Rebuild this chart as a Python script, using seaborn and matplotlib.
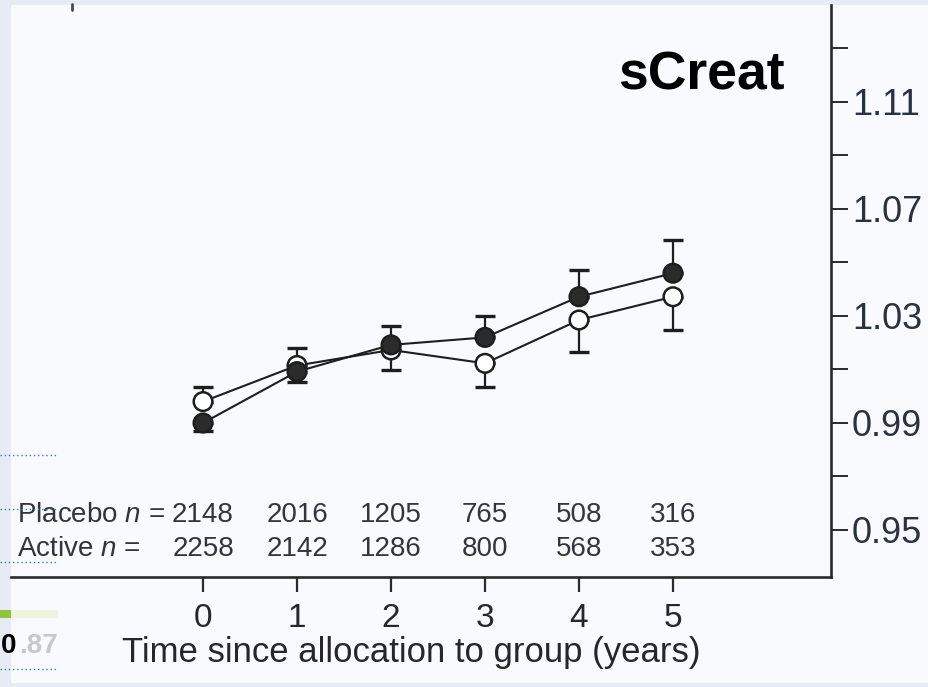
import matplotlib
matplotlib.use("Agg")
import matplotlib.pyplot as plt
from matplotlib import transforms
from matplotlib.patches import Rectangle
from matplotlib.lines import Line2D
import pandas as pd
import seaborn as sns

# Serum creatinine (mg/dL) by year since randomisation
years = [0, 1, 2, 3, 4, 5]
active_mean = [0.9900, 1.0092, 1.0192, 1.0220, 1.0372, 1.0460]
placebo_mean = [0.9980, 1.0115, 1.0173, 1.0123, 1.0285, 1.0372]
active_err_up = [0.0, 0.0, 0.0071, 0.0080, 0.0100, 0.0125]
active_err_down = [0.0030, 0.0037, 0.0, 0.0, 0.0, 0.0]
placebo_err_up = [0.0055, 0.0064, 0.0, 0.0, 0.0, 0.0]
placebo_err_down = [0.0, 0.0, 0.0075, 0.0090, 0.0118, 0.0125]

# Numbers at risk
placebo_n = [2148, 2016, 1205, 765, 508, 316]
active_n = [2258, 2142, 1286, 800, 568, 353]

y_major = [0.95, 0.99, 1.03, 1.07, 1.11]
y_minor = [0.97, 1.01, 1.05, 1.09, 1.13]
x_tick_labels = ["0", "1", "2", "3", "4", "5"]

sns.set_theme(style="white")
plt.rcParams["font.family"] = ["Liberation Sans", "DejaVu Sans"]
plt.rcParams["mathtext.fontset"] = "custom"
plt.rcParams["mathtext.rm"] = "Liberation Sans"
plt.rcParams["mathtext.it"] = "Liberation Sans:italic"

W, H = 929, 687
fig = plt.figure(figsize=(W / 100, H / 100), dpi=100)
fig.patch.set_facecolor("#e7ebf3")
fig.add_artist(Rectangle((11 / W, 4 / H), 918 / W, 678 / H,
                         transform=fig.transFigure, facecolor="#f8fafd",
                         edgecolor="none", zorder=0))

ax = fig.add_axes([11 / W, 110 / H, 820 / W, 572 / H])
ax.set_facecolor("none")

ink = "#1e1e1e"

# one-sided error bars (drawn underneath the markers)
ax.errorbar(years, placebo_mean, yerr=[placebo_err_down, placebo_err_up],
            fmt="none", ecolor=ink, elinewidth=1.6, capsize=7, capthick=2.4,
            zorder=1)
ax.errorbar(years, active_mean, yerr=[active_err_down, active_err_up],
            fmt="none", ecolor=ink, elinewidth=1.6, capsize=7, capthick=2.4,
            zorder=1)

df = pd.DataFrame({
    "year": years + years,
    "value": placebo_mean + active_mean,
    "arm": ["Placebo"] * len(years) + ["Active"] * len(years),
})

sns.lineplot(data=df, x="year", y="value", hue="arm",
             palette={"Placebo": ink, "Active": ink}, linewidth=1.5,
             legend=False, ax=ax, zorder=2)
sns.scatterplot(data=df, x="year", y="value", hue="arm",
                palette={"Placebo": "white", "Active": "#2b2b2b"},
                s=180, edgecolor=ink, linewidth=1.8, legend=False,
                ax=ax, zorder=4)

ax.set_xlim(-2.043, 6.681)
ax.set_ylim(0.93243, 1.14626)

# axes: bottom + right only
for side in ("left", "top"):
    ax.spines[side].set_visible(False)
for side in ("right", "bottom"):
    ax.spines[side].set_color("#2a2a2a")
    ax.spines[side].set_linewidth(1.9)

ax.set_xticks(years)
ax.set_xticklabels(x_tick_labels)
ax.tick_params(axis="x", direction="out", length=11, width=1.6, pad=8,
               labelsize=24, labelcolor="#262630", color="#2a2a2a",
               bottom=True)

ax.yaxis.tick_right()
ax.set_yticks(y_major)
ax.set_yticks(y_minor, minor=True)
ax.set_yticklabels([f"{v:.2f}" for v in y_major])
ax.tick_params(axis="y", which="both", direction="out", length=12,
               width=1.4, pad=3, labelsize=26, labelcolor="#2a3142",
               color="#2a2a2a", right=True, left=False)
ax.set_ylabel("")

ax.set_xlabel("Time since allocation to group (years)", fontsize=25,
              color="#262630")
ax.xaxis.set_label_coords(0.488, -0.1486)
ax.xaxis.label.set_verticalalignment("baseline")

# numbers-at-risk table
trans = transforms.blended_transform_factory(ax.transData, ax.transAxes)
row_y = [0.0962, 0.0367]
txt_col = "#33343c"
ax.text(0.0073, row_y[0], "Placebo $n$ =", transform=ax.transAxes,
        ha="left", va="baseline", fontsize=20, color=txt_col)
ax.text(0.0073, row_y[1], "Active $n$ =", transform=ax.transAxes,
        ha="left", va="baseline", fontsize=20, color=txt_col)
for x, pn, an in zip(years, placebo_n, active_n):
    ax.text(x, row_y[0], str(pn), transform=trans, ha="center",
            va="baseline", fontsize=20, color=txt_col)
    ax.text(x, row_y[1], str(an), transform=trans, ha="center",
            va="baseline", fontsize=20, color=txt_col)

fig.text(785 / W, (H - 90) / H, "sCreat", ha="right", va="baseline",
         fontsize=38.5, fontweight="bold", color="black")

# page furniture at the left margin
for yp in (455, 509, 562, 669):
    fig.add_artist(Line2D([0, 58 / W], [(H - yp) / H] * 2,
                          transform=fig.transFigure, color="#3f74dc",
                          lw=1.0, ls=(0, (1, 2))))
fig.add_artist(Rectangle((0, (H - 618) / H), 11 / W, 8 / H,
                         transform=fig.transFigure, facecolor="#8cc63e",
                         edgecolor="none"))
fig.add_artist(Rectangle((11 / W, (H - 618) / H), 47 / W, 8 / H,
                         transform=fig.transFigure, facecolor="#eef5dc",
                         edgecolor="none"))
fig.text(1 / W, (H - 653) / H, "0", ha="left", va="baseline",
         fontsize=20, fontweight="bold", color="black")
fig.text(19 / W, (H - 653) / H, ".87", ha="left", va="baseline",
         fontsize=20, fontweight="bold", color="#c8c8c8")
fig.add_artist(Line2D([72 / W] * 2, [(H - 4) / H, (H - 10) / H],
                      transform=fig.transFigure, color="#4a4a4a", lw=2))

fig.savefig("out.png", dpi=100, facecolor=fig.get_facecolor())
